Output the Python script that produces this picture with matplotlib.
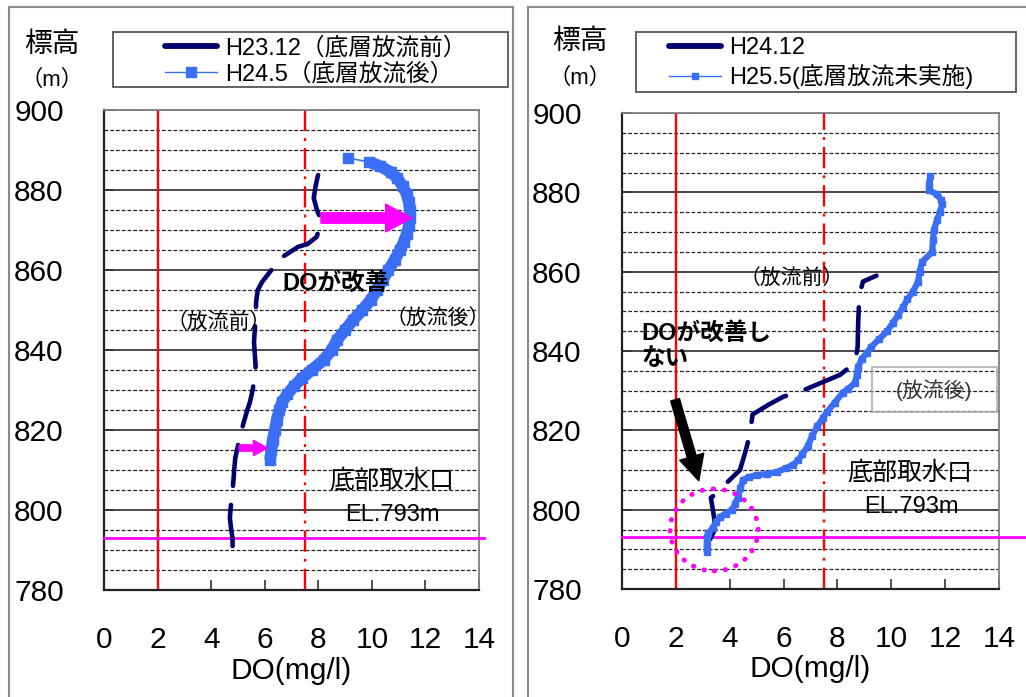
import matplotlib
matplotlib.use('Agg')
import matplotlib.pyplot as plt
from matplotlib.patches import Ellipse, Rectangle, FancyArrowPatch, ArrowStyle
from matplotlib.lines import Line2D

plt.rcParams['font.family'] = ['Liberation Sans', 'Noto Sans CJK JP']

# ---------------- data ----------------
x_ticks = [0, 2, 4, 6, 8, 10, 12, 14]
y_ticks = [780, 800, 820, 840, 860, 880, 900]
intake_el = 793
do_limits = [2.0, 7.5]

left_title = ["H23.12（底層放流前）", "H24.5（底層放流後）"]
right_title = ["H24.12", "H25.5(底層放流未実施)"]

# Left panel: H23.12 (before discharge)
L_before_el = [791, 793, 795, 798, 800, 805, 808, 810, 813, 816, 819, 822, 825, 827, 830, 833,
               836, 840, 842, 845, 848, 852, 855, 857, 860, 863, 864.5, 865.8, 866.5, 868.3,
               870, 873.2, 875, 878, 881, 884, 887]
L_before_do = [4.80, 4.80, 4.75, 4.70, 4.72, 4.80, 4.84, 4.86, 4.90, 5.00, 5.10, 5.22, 5.35, 5.45,
               5.55, 5.62, 5.66, 5.62, 5.60, 5.63, 5.66, 5.68, 5.74, 5.90, 6.25, 6.60, 6.95, 7.25,
               7.60, 7.94, 8.02, 8.06, 7.95, 7.83, 7.90, 8.00, 8.06]

# Left panel: H24.5 (after discharge)
L_after_el = [888, 887, 886, 884.5, 883, 881, 879, 877, 875, 873, 871, 869, 867, 865, 862.5, 860,
              857.5, 855, 852.5, 850, 847.5, 845, 842.5, 840, 837.5, 835, 833, 831, 829, 827, 825,
              822.5, 820, 817.5, 815, 812.5]
L_after_do = [9.10, 9.90, 10.30, 10.70, 10.95, 11.15, 11.30, 11.38, 11.42, 11.42, 11.38, 11.30,
              11.20, 11.05, 10.85, 10.62, 10.40, 10.20, 9.95, 9.65, 9.30, 9.00, 8.70, 8.50, 8.20,
              7.75, 7.40, 7.10, 6.85, 6.65, 6.55, 6.45, 6.38, 6.30, 6.25, 6.20]

# Right panel: H24.12
R_before_el = [792.5, 795, 798, 801, 803, 804, 806.5, 810, 815, 819, 824, 826.5, 828.5, 830, 832,
               834, 837, 841, 847, 852, 855, 857.5, 859]
R_before_do = [3.27, 3.45, 3.42, 3.35, 3.30, 3.50, 3.85, 4.38, 4.60, 4.75, 4.85, 5.45, 6.00, 6.70,
               7.40, 8.10, 8.65, 8.75, 8.77, 8.80, 8.85, 8.95, 9.45]

# Right panel: H25.5 (no bottom discharge)
R_after_el = [884, 882, 880.5, 879.5, 878, 877, 875, 873, 870.5, 868, 865, 862.5, 860, 857.5, 855,
              853, 851, 849, 847, 845, 843, 841, 839.5, 838, 836, 834, 832, 830.5, 829.5, 827,
              824.5, 823, 821, 818.5, 816, 814, 812.5, 811.3, 810.5, 809.5, 809, 808.7, 808.2,
              807.5, 805.5, 803, 801.5, 800, 799, 798.2, 797, 795.5, 794, 793, 791, 789.3]
R_after_do = [11.45, 11.40, 11.40, 11.70, 11.85, 11.90, 11.80, 11.70, 11.58, 11.55, 11.52, 11.15,
              11.05, 11.00, 10.80, 10.60, 10.43, 10.25, 10.05, 9.85, 9.55, 9.25, 9.10, 8.90, 8.77,
              8.72, 8.66, 8.40, 8.20, 7.90, 7.60, 7.45, 7.25, 7.05, 6.90, 6.70, 6.55, 6.35, 6.10,
              5.75, 5.40, 5.00, 4.70, 4.50, 4.40, 4.30, 4.20, 4.10, 3.85, 3.65, 3.50, 3.38, 3.20,
              3.15, 3.15, 3.15]

# ---------------- styling ----------------
NAVY = '#00006e'
BLUE = '#3a6ef5'
MAG = '#ff00ff'
W, H = 1026, 697

fig = plt.figure(figsize=(W / 100, H / 100), dpi=100)

def fx(px):
    return px / W

def fy(py):
    return 1 - py / H

# panel frames
for (x0, x1) in [(9, 513), (528, 1040)]:
    fig.patches.append(Rectangle((fx(x0), fy(720)), fx(x1 - x0), (720 - 7) / H,
                                 transform=fig.transFigure, fill=False,
                                 edgecolor='#8a8a8a', lw=1.5))

axL = fig.add_axes([fx(104), fy(590), fx(375), 480 / H])
axR = fig.add_axes([fx(622), fy(589), fx(377), 476 / H])


def style(ax, hline_ext):
    ax.set_xlim(x_ticks[0], x_ticks[-1])
    ax.set_ylim(y_ticks[0], y_ticks[-1])
    ax.set_xticks(x_ticks)
    ax.set_yticks(y_ticks)
    ax.set_yticks(range(y_ticks[0], y_ticks[-1] + 1, 5), minor=True)
    ax.tick_params(axis='both', which='major', direction='in', length=7, width=1.2,
                   labelsize=21.5, color='#333')
    ax.tick_params(axis='x', which='major', pad=26)
    ax.tick_params(axis='y', which='major', pad=29)
    ax.tick_params(axis='y', which='minor', length=0)
    ax.grid(which='major', axis='y', color='#3a3a3a', lw=1.3, linestyle='-')
    ax.grid(which='minor', axis='y', color='#222222', lw=0.9, linestyle=(0, (3, 1.6)))
    ax.grid(which='major', axis='x', visible=False)
    for s in ['left', 'bottom']:
        ax.spines[s].set_color('#222')
        ax.spines[s].set_linewidth(1.6)
    for s in ['top', 'right']:
        ax.spines[s].set_color('#808080')
        ax.spines[s].set_linewidth(1.3)
    ax.axvline(do_limits[0], color='red', lw=1.7, zorder=2)
    ax.axvline(do_limits[1], color='red', lw=1.7, linestyle=(0, (9, 3, 1.2, 3)), zorder=2)
    ax.axhline(intake_el, xmin=0, xmax=hline_ext, color=MAG, lw=2.0, clip_on=False, zorder=3)
    ax.text(0.5, -0.168, 'DO(mg/l)', transform=ax.transAxes, ha='center', va='center',
            fontsize=21.5)


style(axL, 1.012)
style(axR, 1.075)

# ---------- left panel ----------
axL.plot(L_before_do, L_before_el, color=NAVY, lw=3.3, dashes=(9, 4.2),
         dash_capstyle='round', solid_capstyle='round', zorder=4)
axL.plot(L_after_do[1:], L_after_el[1:], color=BLUE, lw=8.5, solid_capstyle='butt', zorder=4)
axL.plot(L_after_do, L_after_el, color=BLUE, lw=1.2, marker='s', ms=7.5, zorder=4)

axL.add_patch(FancyArrowPatch((8.1, 873), (11.5, 873),
                              arrowstyle=ArrowStyle('simple', head_length=19, head_width=20,
                                                    tail_width=7.5),
                              color=MAG, shrinkA=0, shrinkB=0, mutation_scale=1, zorder=6))
axL.add_patch(FancyArrowPatch((5.05, 815.5), (6.1, 815.5),
                              arrowstyle=ArrowStyle('simple', head_length=10, head_width=11,
                                                    tail_width=4.5),
                              color=MAG, shrinkA=0, shrinkB=0, mutation_scale=1, zorder=6))

axL.text(8.65, 856.8, 'DOが改善', fontsize=17, fontweight='bold', ha='center', va='center',
         zorder=7)
axL.text(4.3, 847, '（放流前）', fontsize=15, ha='center', va='center', zorder=7)
axL.text(12.45, 848, '（放流後）', fontsize=15, ha='center', va='center', zorder=7,
         clip_on=False)
axL.text(10.75, 807.5, '底部取水口', fontsize=18, ha='center', va='center', zorder=7)
axL.text(10.75, 798.8, 'EL.793m', fontsize=17, ha='center', va='center', zorder=7)

# ---------- right panel ----------
axR.plot(R_before_do, R_before_el, color=NAVY, lw=3.3, dashes=(10, 4.5),
         dash_capstyle='round', solid_capstyle='round', zorder=4)
axR.plot(R_after_do, R_after_el, color=BLUE, lw=4.5, solid_capstyle='butt', zorder=4)
axR.plot(R_after_do, R_after_el, color=BLUE, lw=1.0, marker='s', ms=4.5, zorder=4)

axR.add_patch(FancyArrowPatch((1.97, 827.7), (2.85, 807.3),
                              arrowstyle=ArrowStyle('simple', head_length=18, head_width=18,
                                                    tail_width=6.5),
                              color='black', shrinkA=0, shrinkB=0, mutation_scale=1, zorder=6))
axR.add_patch(Ellipse((3.42, 794.9), 3.27, 20.7, fill=False, edgecolor=MAG, lw=3.5,
                      linestyle=(0, (0.1, 2.2)), capstyle='round', zorder=6))

axR.text(0.72, 841.3, 'DOが改善し\nない', fontsize=17, fontweight='bold', ha='left',
         va='center', linespacing=1.1, zorder=7)
axR.text(6.31, 858.4, '（放流前）', fontsize=15, ha='center', va='center', zorder=7)
axR.add_patch(Rectangle((9.28, 824.6), 4.65, 11.4, fill=False, edgecolor='#b0b0b0', lw=1.2,
                        zorder=6))
axR.text(11.6, 830.2, '(放流後)', fontsize=15, ha='center', va='center', color='#333',
         zorder=7)
axR.text(10.7, 809.3, '底部取水口', fontsize=18, ha='center', va='center', zorder=7)
axR.text(10.75, 800.7, 'EL.793m', fontsize=17, ha='center', va='center', zorder=7)

# ---------- axis titles ----------
for cx, cy1, cy2 in [(52, 45, 80), (580, 42, 78)]:
    fig.text(fx(cx), fy(cy1), '標高', fontsize=20, ha='center', va='center')
    fig.text(fx(cx), fy(cy2), '（m）', fontsize=16, ha='center', va='center')

# ---------- legends ----------
h_navy = Line2D([], [], color=NAVY, lw=4.2, solid_capstyle='round')
h_blueL = Line2D([], [], color=BLUE, lw=1.0, marker='s', ms=7)
h_blueR = Line2D([], [], color=BLUE, lw=1.0, marker='s', ms=5)

for (bx0, by0, bx1, by1), hx, labels, hb, sp in [
        ((113, 32, 508, 87), 165, left_title, h_blueL, 0.12),
        ((636, 32, 1016, 92), 669, right_title, h_blueR, 0.22)]:
    fig.patches.append(Rectangle((fx(bx0), fy(by1)), fx(bx1 - bx0), (by1 - by0) / H,
                                 transform=fig.transFigure, fill=False,
                                 edgecolor='#555555', lw=1.3))
    fig.legend([h_navy, hb], labels, loc='upper left', bbox_to_anchor=(fx(hx), fy(by0 + 5)),
               frameon=False, fontsize=17, borderpad=0, borderaxespad=0,
               handlelength=2.2, handletextpad=0.35, labelspacing=sp)

fig.savefig('out.png', dpi=100)
